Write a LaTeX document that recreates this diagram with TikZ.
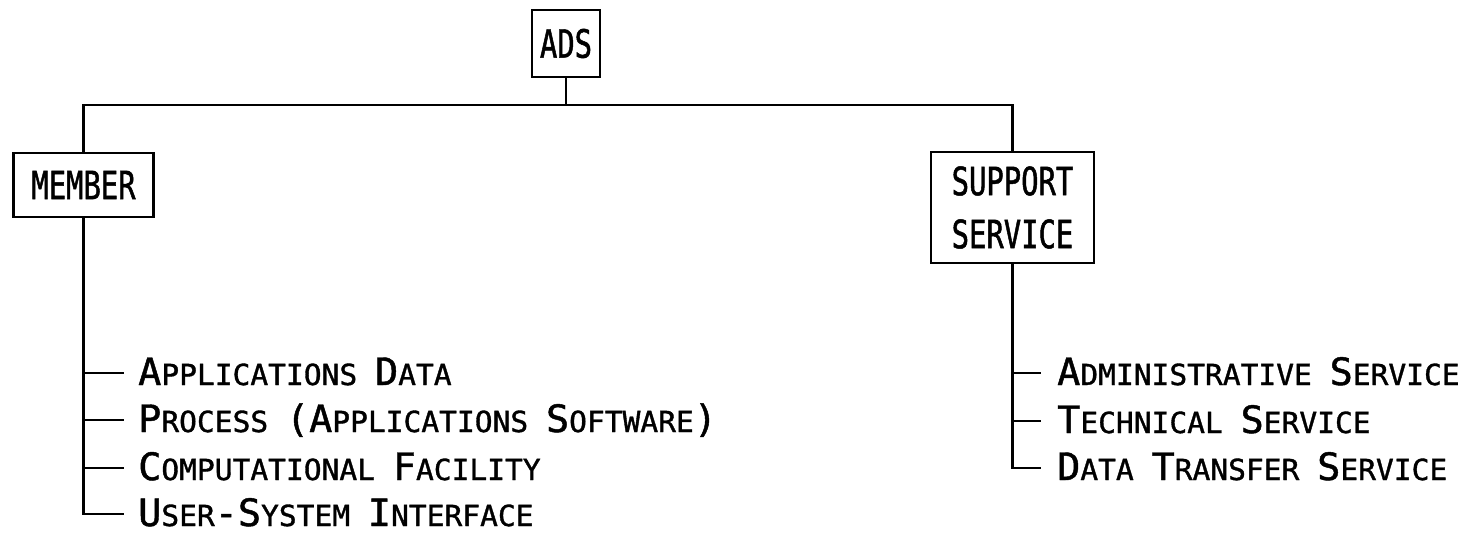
\documentclass[tikz,border=0pt]{standalone}
\usepackage{fontspec}
\usetikzlibrary{calc}
\newfontfamily\listfont[FakeStretch=1.02,FakeBold=1.2]{DejaVu Sans Mono}
\newfontfamily\boxfont[FakeStretch=0.74,FakeBold=1.2]{DejaVu Sans Mono}
\newcommand\capbig{\fontsize{37.7}{40}\selectfont}
\newcommand\capsml{\fontsize{29}{30}\selectfont}
\newcommand\scw[2]{{\capbig #1}{\capsml #2}}
\tikzset{
  conn/.style={line width=2.8pt, line cap=rect},
  boxlbl/.style={draw, line width=2.5pt, inner sep=0pt, align=center,
    font=\boxfont\fontsize{39}{53}\selectfont},
  item/.style={inner sep=0pt, anchor=base west, font=\listfont\capsml},
}
\begin{document}
\begin{tikzpicture}[x=1pt,y=-1pt]
\useasboundingbox (0,0) rectangle (1478,533);
% top level
\node[boxlbl, minimum width=68pt, minimum height=67pt] (ads) at (566,43.5) {ADS};
\node[boxlbl, minimum width=140pt, minimum height=64pt] (member) at (83.5,185) {MEMBER};
\node[boxlbl, minimum width=163pt, minimum height=111pt] (support) at (1012.5,207.5) {SUPPORT\\SERVICE};
\coordinate (barY) at (0,105);
\draw[conn] (ads.south) -- (ads.south |- barY);
\draw[conn] (member.north) |- (ads.south |- barY) -| (support.north);
% member items
\node[item] (m1) at (138,385) {\scw{A}{PPLICATIONS} \scw{D}{ATA}};
\node[item] (m2) at (138,432) {\scw{P}{ROCESS} {\capbig(}\scw{A}{PPLICATIONS} \scw{S}{OFTWARE}{\capbig)}};
\node[item] (m3) at (138,480) {\scw{C}{OMPUTATIONAL} \scw{F}{ACILITY}};
\node[item] (m4) at (138,526) {\scw{U}{SER}{\capbig-}\scw{S}{YSTEM} \scw{I}{NTERFACE}};
\foreach \i in {1,...,4}{
  \coordinate (mt\i) at ($(m\i.base west)+(-15,-12)$);
}
\draw[conn] (member.south) -- (member.south |- mt4) -- (mt4);
\foreach \i in {1,2,3}{
  \draw[conn] (member.south |- mt\i) -- (mt\i);
}
% support items
\node[item] (s1) at (1057,385) {\scw{A}{DMINISTRATIVE} \scw{S}{ERVICE}};
\node[item] (s2) at (1057,433) {\scw{T}{ECHNICAL} \scw{S}{ERVICE}};
\node[item] (s3) at (1057,480) {\scw{D}{ATA} \scw{T}{RANSFER} \scw{S}{ERVICE}};
\foreach \i in {1,2,3}{
  \coordinate (st\i) at ($(s\i.base west)+(-17,-12)$);
}
\draw[conn] (support.south) -- (support.south |- st3) -- (st3);
\foreach \i in {1,2}{
  \draw[conn] (support.south |- st\i) -- (st\i);
}
\end{tikzpicture}
\end{document}
